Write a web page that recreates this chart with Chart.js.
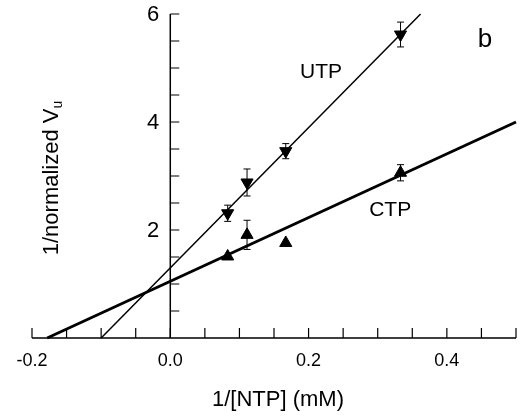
<!DOCTYPE html>
<html><head><meta charset="utf-8">
<script src="https://cdn.jsdelivr.net/npm/chart.js@4/dist/chart.umd.min.js"></script>
<style>html,body{margin:0;padding:0;background:#fff}#wrap{width:524px;height:418px}</style>
</head><body><div id="wrap"><canvas id="c" width="524" height="418"></canvas></div>
<script>
const ntpInv = [0.083, 0.111, 0.167, 0.333];
const utpVals = [2.31, 2.88, 3.46, 5.62];
const utpErr = [0.15, 0.25, 0.14, 0.23];
const ctpVals = [1.51, 1.91, 1.76, 3.06];
const ctpErr = [0, 0.27, 0, 0.15];
const utpFitX = [-0.1, 0.362];
const utpFitY = [0, 6];
const ctpFitX = [-0.178, 0.5];
const ctpFitY = [0, 4.0];
const xTickVals = [-0.2, 0.0, 0.2, 0.4];
const xTickLabels = ['-0.2', '0.0', '0.2', '0.4'];
const yTickVals = [2, 4, 6];
const yTickLabels = ['2', '4', '6'];
const FONT = '"Liberation Sans", Arial, sans-serif';

const pts = (xs, ys) => xs.map((x, i) => ({x: x, y: ys[i]}));

const decor = {
  id: 'decor',
  afterDatasetsDraw(chart) {
    const ctx = chart.ctx;
    const xs = chart.scales.x, ys = chart.scales.y;
    const X = v => xs.getPixelForValue(v), Y = v => ys.getPixelForValue(v);
    ctx.save();
    ctx.strokeStyle = '#000'; ctx.fillStyle = '#000';
    // axes
    ctx.lineWidth = 1.5;
    ctx.beginPath();
    ctx.moveTo(X(0), Y(0)); ctx.lineTo(X(0), Y(6));
    ctx.moveTo(X(-0.2), Y(0)); ctx.lineTo(X(0.5), Y(0));
    ctx.stroke();
    ctx.lineWidth = 1.2;
    ctx.beginPath();
    for (let k = 1; k <= 12; k++) {
      const py = Y(k * 0.5);
      ctx.moveTo(X(0), py); ctx.lineTo(X(0) + 9, py);
    }
    for (let k = 0; k <= 14; k++) {
      const px = X(-0.2 + k * 0.05);
      ctx.moveTo(px, Y(0)); ctx.lineTo(px, Y(0) - 10);
    }
    ctx.stroke();
    // error bars
    ctx.lineWidth = 1;
    const eb = (vals, errs) => {
      ctx.beginPath();
      ntpInv.forEach((x, i) => {
        if (!errs[i]) return;
        const px = X(x), t = Y(vals[i] + errs[i]), b = Y(vals[i] - errs[i]);
        ctx.moveTo(px, t); ctx.lineTo(px, b);
        ctx.moveTo(px - 3.5, t); ctx.lineTo(px + 3.5, t);
        ctx.moveTo(px - 3.5, b); ctx.lineTo(px + 3.5, b);
      });
      ctx.stroke();
    };
    eb(utpVals, utpErr); eb(ctpVals, ctpErr);
    // tick labels
    ctx.font = '22px ' + FONT;
    ctx.textAlign = 'right'; ctx.textBaseline = 'middle';
    yTickVals.forEach((v, i) => ctx.fillText(yTickLabels[i], X(0) - 11, Y(v) + 1));
    ctx.font = '18px ' + FONT;
    ctx.textAlign = 'center';
    xTickVals.forEach((v, i) => ctx.fillText(xTickLabels[i], X(v), Y(0) + 23));
    // axis titles
    ctx.font = '22px ' + FONT;
    ctx.fillText('1/[NTP] (mM)', 278, 400);
    ctx.save();
    ctx.translate(52, 178);
    ctx.rotate(-Math.PI / 2);
    const main = '1/normalized V';
    const w1 = ctx.measureText(main).width;
    ctx.font = '14px ' + FONT;
    const w2 = ctx.measureText('u').width;
    const start = -(w1 + w2) / 2;
    ctx.textAlign = 'left';
    ctx.font = '22px ' + FONT;
    ctx.fillText(main, start, 0);
    ctx.font = '14px ' + FONT;
    ctx.fillText('u', start + w1, 6);
    ctx.restore();
    // annotations
    ctx.font = '21px ' + FONT;
    ctx.textAlign = 'center';
    ctx.fillText('UTP', X(0.218), Y(4.93));
    ctx.fillText('CTP', X(0.318), Y(2.36));
    ctx.font = '26px ' + FONT;
    ctx.fillText('b', X(0.455), Y(5.52));
    ctx.restore();
  }
};

new Chart(document.getElementById('c'), {
  type: 'scatter',
  data: {
    datasets: [
      {label: 'UTP fit', type: 'line', data: pts(utpFitX, utpFitY), borderColor: '#000', borderWidth: 1.5, pointRadius: 0, fill: false, clip: false},
      {label: 'CTP fit', type: 'line', data: pts(ctpFitX, ctpFitY), borderColor: '#000', borderWidth: 3, pointRadius: 0, fill: false, clip: false},
      {label: 'UTP', data: pts(ntpInv, utpVals), pointStyle: 'triangle', rotation: 180, radius: 7, backgroundColor: '#000', borderColor: '#000', borderWidth: 1, clip: false},
      {label: 'CTP', data: pts(ntpInv, ctpVals), pointStyle: 'triangle', rotation: 0, radius: 7, backgroundColor: '#000', borderColor: '#000', borderWidth: 1, clip: false}
    ]
  },
  options: {
    responsive: false, devicePixelRatio: 1, animation: false,
    layout: {padding: {left: 32, right: 2, top: 14, bottom: 80}},
    plugins: {legend: {display: false}, tooltip: {enabled: false}},
    scales: {
      x: {type: 'linear', min: -0.2, max: 0.5, display: false},
      y: {type: 'linear', min: 0, max: 6, display: false}
    }
  },
  plugins: [decor]
});
</script></body></html>
